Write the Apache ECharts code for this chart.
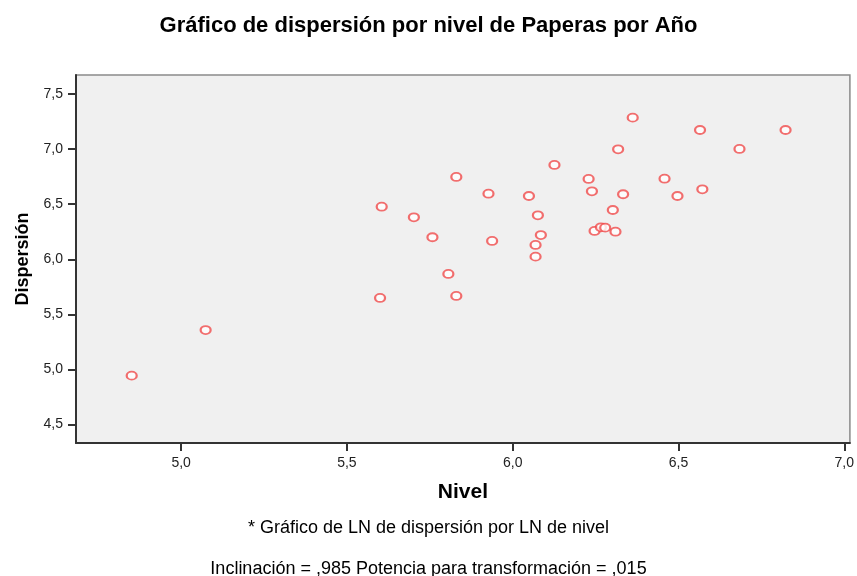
<!DOCTYPE html>
<html>
<head>
<meta charset="utf-8">
<script src="https://cdn.jsdelivr.net/npm/echarts@6/dist/echarts.min.js"></script>
<style>
  html, body { margin: 0; padding: 0; background: #fff; }
  #chart { width: 857px; height: 576px; }
</style>
</head>
<body>
<div id="chart"></div>
<script>
// valores (Nivel, Dispersion)
var nivel = [4.851, 5.074, 5.600, 5.806, 5.830, 5.605, 5.702, 5.758, 5.830, 5.927, 5.938,
    6.049, 6.076, 6.085, 6.069, 6.069, 6.126, 6.229, 6.239, 6.247, 6.266, 6.279,
    6.302, 6.310, 6.333, 6.318, 6.362, 6.458, 6.497, 6.572, 6.565, 6.684, 6.823];
var dispersion = [4.944, 5.358, 5.649, 5.867, 5.667, 6.477, 6.381, 6.200, 6.747, 6.595, 6.166,
    6.574, 6.399, 6.220, 6.130, 6.024, 6.856, 6.729, 6.617, 6.257, 6.290, 6.287,
    6.447, 6.250, 6.590, 6.998, 7.285, 6.731, 6.574, 6.635, 7.173, 7.001, 7.173];
var xTicks = [5.0, 5.5, 6.0, 6.5, 7.0];
var yTicks = [4.5, 5.0, 5.5, 6.0, 6.5, 7.0, 7.5];

(function() {
    var myChart = echarts.init(document.getElementById('chart'));
    var font = '"Liberation Sans", Arial, sans-serif';
    var points = nivel.map(function(v, i) { return [v, dispersion[i]]; });
    var fmt = function(v) { return v.toFixed(1).replace('.', ','); };

    var option = {
        backgroundColor: '#ffffff',
        animation: false,
        textStyle: { fontFamily: font },
        title: [{
            text: 'Gráfico de dispersión por nivel de Paperas por Año',
            left: 'center',
            top: 10,
            textStyle: { fontFamily: font, fontSize: 22, fontWeight: 'bold', color: '#000' }
        }, {
            text: '* Gráfico de LN de dispersión por LN de nivel',
            left: 'center',
            top: 514,
            textStyle: { fontFamily: font, fontSize: 18, fontWeight: 'normal', color: '#000' }
        }, {
            text: 'Inclinación = ,985 Potencia para transformación = ,015',
            left: 'center',
            top: 555,
            textStyle: { fontFamily: font, fontSize: 18, fontWeight: 'normal', color: '#000' }
        }],
        grid: {
            left: 76,
            right: 5,
            top: 75,
            bottom: 133,
            show: true,
            backgroundColor: '#f0f0f0',
            borderColor: '#8a8a8a',
            borderWidth: 1.5
        },
        xAxis: {
            type: 'value',
            min: 4.683,
            max: 7.017,
            name: 'Nivel',
            nameLocation: 'middle',
            nameGap: 39,
            nameTextStyle: { fontFamily: font, fontSize: 21, fontWeight: 'bold', color: '#000' },
            splitLine: { show: false },
            axisLine: { lineStyle: { color: '#333', width: 2 } },
            axisTick: { customValues: xTicks, length: 8, lineStyle: { color: '#333', width: 2 } },
            axisLabel: { customValues: xTicks, formatter: fmt, color: '#222', fontSize: 14, margin: 13 }
        },
        yAxis: {
            type: 'value',
            min: 4.333,
            max: 7.672,
            name: 'Dispersión',
            nameLocation: 'middle',
            nameGap: 44,
            nameTextStyle: { fontFamily: font, fontSize: 18, fontWeight: 'bold', color: '#000' },
            splitLine: { show: false },
            axisLine: { lineStyle: { color: '#333', width: 2 } },
            axisTick: { customValues: yTicks, length: 8, lineStyle: { color: '#333', width: 2 } },
            axisLabel: { customValues: yTicks, formatter: fmt, color: '#222', fontSize: 14, margin: 13 }
        },
        series: [{
            type: 'scatter',
            data: points,
            symbol: 'emptyCircle',
            symbolSize: [10, 8],
            itemStyle: { color: '#f04b4b', borderColor: '#f04b4b', borderWidth: 1.3 }
        }]
    };

    myChart.setOption(option);
})();
</script>
</body>
</html>
